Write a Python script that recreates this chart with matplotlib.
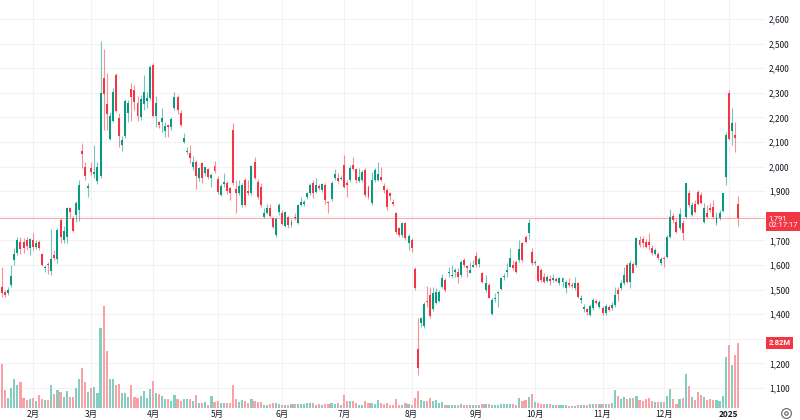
import numpy as np
import matplotlib
matplotlib.use("Agg")
import matplotlib.pyplot as plt
from matplotlib import transforms
from matplotlib.lines import Line2D

plt.rcParams['font.family'] = ['Noto Sans CJK JP', 'DejaVu Sans']

# 日足 (2024年1月中旬 ～ 2025年1月9日)
opens = [
    1512, 1492, 1485, 1519, 1620, 1647, 1695, 1692, 1700, 1668,
    1703, 1675, 1695, 1645, 1587, 1605, 1577, 1640, 1623, 1783,
    1702, 1712, 1830, 1790, 1803, 1823, 2065, 2000, 1912, 1995,
    1970, 1943, 1960, 2362, 2255, 2111, 2187, 2372, 2196, 2088,
    2124, 2217, 2314, 2311, 2257, 2200, 2255, 2265, 2277, 2413,
    2206, 2180, 2180, 2146, 2170, 2162, 2237, 2281, 2216, 2101,
    2058, 2057, 1997, 2020, 1952, 2013, 1973, 1989, 1952, 2004,
    1950, 1885, 1930, 1932, 1912, 2149, 1908, 1891, 1844, 1946,
    1901, 1891, 2020, 1939, 1918, 1796, 1813, 1833, 1790, 1722,
    1817, 1813, 1759, 1796, 1763, 1796, 1770, 1844, 1848, 1878,
    1891, 1935, 1898, 1922, 1905, 1925, 1858, 1867, 1952, 1955,
    1948, 2006, 1935, 1946, 2006, 1989, 1943, 1946, 1986, 1918,
    1851, 1946, 1946, 1959, 1921, 1905, 1891, 1856, 1810, 1749,
    1722, 1769, 1688, 1702, 1582, 1257, 1363, 1352, 1455, 1478,
    1420, 1444, 1455, 1509, 1539, 1566, 1555, 1573, 1573, 1559,
    1620, 1596, 1569, 1593, 1637, 1604, 1566, 1498, 1519, 1401,
    1460, 1485, 1501, 1550, 1573, 1593, 1600, 1614, 1620, 1688,
    1712, 1729, 1654, 1607, 1596, 1580, 1552, 1536, 1542, 1539,
    1542, 1525, 1532, 1505, 1525, 1520, 1505, 1525, 1458, 1420,
    1420, 1397, 1424, 1455, 1431, 1424, 1404, 1428, 1424, 1437,
    1498, 1505, 1525, 1600, 1532, 1604, 1600, 1702, 1704, 1695,
    1695, 1670, 1645, 1645, 1607, 1630, 1634, 1715, 1799, 1776,
    1749, 1772, 1796, 1891, 1803, 1848, 1898, 1885, 1776, 1810,
    1830, 1837, 1769, 1790, 1821, 1959, 2298, 2146, 2128, 1847,
]
highs = [
    1590, 1500, 1512, 1600, 1668, 1715, 1715, 1710, 1712, 1710,
    1731, 1700, 1700, 1650, 1600, 1612, 1745, 1660, 1750, 1790,
    1760, 1835, 1835, 1800, 1860, 1945, 2095, 2020, 1932, 2020,
    2088, 2020, 2512, 2477, 2380, 2220, 2320, 2380, 2216, 2124,
    2275, 2270, 2338, 2330, 2285, 2290, 2372, 2305, 2412, 2420,
    2285, 2185, 2237, 2182, 2175, 2200, 2305, 2290, 2230, 2135,
    2080, 2088, 2045, 2027, 2000, 2020, 2000, 1995, 1972, 2022,
    1960, 1930, 1972, 1940, 1918, 2178, 1946, 1946, 1935, 1952,
    1946, 2006, 2040, 1950, 1932, 1830, 1850, 1848, 1795, 1797,
    1851, 1825, 1820, 1800, 1786, 1810, 1850, 1878, 1864, 1898,
    1932, 1946, 1952, 1930, 1935, 1932, 1862, 1940, 1989, 1972,
    1966, 2047, 1946, 2006, 2040, 1993, 1993, 1985, 1993, 1925,
    1979, 1993, 2020, 1997, 1932, 1915, 1898, 1870, 1817, 1755,
    1776, 1776, 1728, 1708, 1590, 1383, 1390, 1450, 1515, 1512,
    1512, 1505, 1499, 1563, 1546, 1593, 1600, 1586, 1586, 1620,
    1627, 1600, 1614, 1620, 1654, 1634, 1573, 1559, 1525, 1464,
    1485, 1495, 1553, 1569, 1607, 1668, 1620, 1620, 1702, 1695,
    1722, 1786, 1668, 1620, 1600, 1586, 1566, 1559, 1559, 1563,
    1552, 1552, 1553, 1539, 1546, 1532, 1553, 1532, 1478, 1441,
    1424, 1441, 1464, 1460, 1458, 1433, 1441, 1437, 1451, 1512,
    1512, 1539, 1593, 1607, 1620, 1614, 1715, 1718, 1718, 1704,
    1729, 1680, 1670, 1654, 1634, 1637, 1722, 1826, 1810, 1786,
    1830, 1783, 1935, 1905, 1857, 1864, 1905, 1898, 1851, 1844,
    1851, 1864, 1817, 1823, 1894, 2142, 2311, 2237, 2183, 1880,
]
lows = [
    1472, 1470, 1478, 1512, 1600, 1640, 1645, 1650, 1660, 1640,
    1660, 1665, 1660, 1595, 1572, 1562, 1560, 1620, 1610, 1688,
    1690, 1690, 1790, 1735, 1775, 1778, 1993, 1945, 1878, 1965,
    1955, 1930, 1952, 2150, 2150, 2108, 2180, 2220, 2080, 2065,
    2115, 2183, 2186, 2230, 2186, 2190, 2230, 2238, 2270, 2200,
    2160, 2155, 2142, 2122, 2120, 2150, 2230, 2215, 2165, 2095,
    2050, 2013, 1985, 1908, 1940, 1932, 1960, 1950, 1918, 1973,
    1890, 1880, 1918, 1890, 1864, 1925, 1813, 1885, 1835, 1840,
    1885, 1885, 1948, 1870, 1837, 1793, 1808, 1796, 1750, 1715,
    1803, 1762, 1755, 1750, 1756, 1783, 1765, 1840, 1840, 1870,
    1885, 1871, 1891, 1905, 1898, 1850, 1810, 1860, 1945, 1932,
    1945, 1915, 1878, 1939, 1986, 1932, 1939, 1939, 1878, 1870,
    1844, 1939, 1940, 1940, 1891, 1823, 1864, 1840, 1728, 1715,
    1715, 1700, 1660, 1654, 1500, 1153, 1350, 1345, 1430, 1383,
    1414, 1440, 1451, 1505, 1492, 1553, 1546, 1553, 1525, 1553,
    1593, 1553, 1566, 1590, 1593, 1593, 1525, 1491, 1464, 1397,
    1451, 1430, 1498, 1539, 1553, 1590, 1580, 1566, 1614, 1614,
    1688, 1704, 1600, 1600, 1532, 1532, 1525, 1532, 1519, 1532,
    1532, 1519, 1512, 1485, 1512, 1505, 1498, 1465, 1444, 1410,
    1397, 1393, 1417, 1441, 1424, 1397, 1397, 1413, 1417, 1431,
    1455, 1498, 1519, 1525, 1505, 1566, 1593, 1674, 1674, 1668,
    1661, 1640, 1640, 1620, 1600, 1590, 1627, 1708, 1769, 1729,
    1742, 1702, 1790, 1837, 1799, 1813, 1844, 1850, 1772, 1790,
    1817, 1790, 1763, 1783, 1817, 1925, 2108, 2088, 2061, 1760,
]
closes = [
    1487, 1480, 1500, 1555, 1645, 1700, 1665, 1668, 1678, 1704,
    1675, 1688, 1668, 1600, 1593, 1600, 1623, 1630, 1742, 1712,
    1740, 1830, 1815, 1740, 1853, 1925, 2050, 1963, 1921, 1978,
    1980, 2000, 2300, 2295, 2215, 2206, 2305, 2226, 2124, 2108,
    2268, 2260, 2284, 2262, 2207, 2273, 2305, 2278, 2406, 2206,
    2260, 2170, 2196, 2165, 2160, 2192, 2281, 2230, 2170, 2115,
    2065, 2034, 2020, 1960, 1993, 1952, 1997, 1959, 1966, 1983,
    1898, 1921, 1939, 1902, 1892, 1935, 1892, 1921, 1925, 1844,
    1892, 2002, 1952, 1878, 1844, 1813, 1830, 1800, 1756, 1786,
    1844, 1767, 1817, 1763, 1776, 1790, 1844, 1857, 1857, 1891,
    1925, 1894, 1925, 1912, 1929, 1864, 1853, 1935, 1970, 1943,
    1952, 1918, 1925, 1993, 1989, 1946, 1959, 1979, 1885, 1878,
    1946, 1986, 1970, 1946, 1903, 1835, 1880, 1850, 1735, 1722,
    1769, 1708, 1718, 1668, 1505, 1180, 1383, 1441, 1450, 1393,
    1485, 1492, 1492, 1546, 1498, 1571, 1559, 1580, 1553, 1614,
    1600, 1587, 1580, 1600, 1600, 1623, 1532, 1525, 1468, 1458,
    1464, 1492, 1546, 1555, 1580, 1627, 1587, 1573, 1664, 1620,
    1695, 1769, 1607, 1614, 1536, 1539, 1532, 1552, 1536, 1546,
    1536, 1546, 1546, 1532, 1519, 1515, 1525, 1471, 1464, 1428,
    1410, 1433, 1458, 1447, 1451, 1404, 1433, 1417, 1436, 1478,
    1482, 1525, 1559, 1532, 1609, 1569, 1708, 1681, 1688, 1674,
    1681, 1647, 1661, 1627, 1623, 1623, 1712, 1796, 1783, 1735,
    1807, 1729, 1932, 1844, 1844, 1817, 1848, 1853, 1830, 1796,
    1823, 1796, 1796, 1813, 1891, 2128, 2111, 2179, 2115, 1791,
]
# 出来高 (百万株)
volumes_m = [
    1.90, 0.80, 0.43, 0.87, 1.26, 1.01, 1.12, 0.43, 0.36, 0.40,
    0.43, 0.32, 0.58, 0.40, 0.36, 0.36, 1.01, 0.62, 0.80, 0.68,
    0.48, 0.72, 0.46, 0.46, 0.87, 1.26, 1.74, 1.13, 0.68, 0.87,
    0.91, 0.65, 3.45, 4.42, 2.49, 1.26, 1.26, 1.01, 1.04, 0.65,
    0.65, 0.48, 1.01, 0.46, 0.43, 0.51, 0.75, 0.43, 0.83, 1.19,
    0.65, 0.62, 0.51, 0.40, 0.39, 0.29, 0.55, 0.39, 0.32, 0.39,
    0.39, 0.39, 0.32, 0.55, 0.22, 0.22, 0.26, 0.14, 0.54, 0.26,
    0.32, 0.22, 0.22, 0.22, 0.22, 0.99, 0.39, 0.25, 0.33, 0.30,
    0.22, 0.40, 0.29, 0.26, 0.26, 0.14, 0.14, 0.19, 0.22, 0.22,
    0.17, 0.14, 0.14, 0.14, 0.17, 0.17, 0.17, 0.17, 0.17, 0.22,
    0.22, 0.22, 0.14, 0.17, 0.14, 0.19, 0.19, 0.22, 0.19, 0.22,
    0.14, 0.58, 0.32, 0.32, 0.32, 0.22, 0.14, 0.14, 0.29, 0.22,
    0.22, 0.17, 0.36, 0.22, 0.19, 0.22, 0.14, 0.14, 0.39, 0.14,
    0.14, 0.22, 0.19, 0.14, 0.43, 0.72, 0.36, 0.29, 0.29, 0.43,
    0.29, 0.33, 0.22, 0.25, 0.14, 0.12, 0.14, 0.12, 0.14, 0.17,
    0.14, 0.14, 0.14, 0.14, 0.12, 0.14, 0.17, 0.17, 0.17, 0.14,
    0.14, 0.14, 0.17, 0.17, 0.17, 0.17, 0.17, 0.14, 0.43, 0.29,
    0.36, 0.48, 0.62, 0.25, 0.22, 0.17, 0.17, 0.17, 0.17, 0.12,
    0.12, 0.14, 0.14, 0.12, 0.10, 0.10, 0.10, 0.12, 0.14, 0.14,
    0.14, 0.19, 0.19, 0.19, 0.19, 0.17, 0.17, 0.17, 0.22, 0.80,
    0.54, 0.40, 0.46, 0.40, 0.43, 0.43, 0.54, 0.36, 0.32, 0.40,
    0.43, 0.32, 0.26, 0.25, 0.25, 0.25, 0.51, 0.83, 0.39, 0.17,
    0.40, 0.43, 1.48, 0.97, 0.48, 0.36, 0.68, 0.58, 0.48, 0.36,
    0.39, 0.33, 0.33, 0.32, 0.51, 2.20, 2.75, 1.88, 2.28, 2.82,
]

# 月ごとの営業日数 (1月は表示分のみ)
month_days = [10, 19, 20, 21, 21, 20, 22, 21, 19, 22, 20, 21, 4]
month_labels = ['2月', '3月', '4月', '5月', '6月', '7月', '8月', '9月',
                '10月', '11月', '12月', '2025']
price_ticks = list(range(1100, 2700, 100))
hidden_ticks = [1300, 1800]  # 価格ラベルの下に隠れる目盛
last_price = 1791
countdown = '02:17:17'

UP = '#089981'
DOWN = '#F23645'
UP_VOL = '#84cdc1'
DOWN_VOL = '#f8a2a8'
TXT = '#131722'

o, h, l, c = (np.array(a, dtype=float) for a in (opens, highs, lows, closes))
vol = np.array(volumes_m) * 1e6
x = np.arange(len(c))
up = c >= o
col = np.where(up, UP, DOWN)
vcol = np.where(up, UP_VOL, DOWN_VOL)
tick_pos = np.cumsum(month_days)[:-1]

fig = plt.figure(figsize=(8, 4.2), dpi=100)
rect = [0, 12 / 420, 765 / 800, 408 / 420]
ax = fig.add_axes(rect)
axv = fig.add_axes(rect, sharex=ax)
axv.patch.set_alpha(0)
axv.set_zorder(ax.get_zorder() + 1)

# ローソク足
ax.vlines(x, l, h, colors=col, lw=0.8, alpha=0.55)
ax.bar(x, np.maximum(np.abs(c - o), 3), bottom=np.minimum(o, c),
       width=0.64, color=col, lw=0)

# 出来高
axv.bar(x, vol, width=0.7, color=vcol, lw=0)
axv.set_ylim(0, 17.7e6)
axv.axis('off')

ax.set_xlim(-0.65, 247.75)
ax.set_ylim(1019, 2677)
ax.set_xticks(tick_pos)
ax.set_xticklabels(month_labels)
ax.set_yticks(price_ticks)
ax.set_yticklabels(['' if v in hidden_ticks else f'{v:,}' for v in price_ticks])
ax.yaxis.tick_right()
ax.grid(True, color='#f2f2f5', lw=0.8)
ax.set_axisbelow(True)
ax.tick_params(axis='y', length=0, pad=3, labelsize=6, labelcolor=TXT)
ax.tick_params(axis='x', length=0, pad=1.5, labelsize=6, labelcolor=TXT)
ax.get_xticklabels()[-1].set_fontweight('bold')
for s in ax.spines.values():
    s.set_visible(False)

# 現在値ライン
ax.axhline(last_price, color=DOWN, lw=0.7, alpha=0.45)
tr = transforms.blended_transform_factory(ax.transAxes, ax.transData)
ax.annotate(f'{last_price:,}\n{countdown}', xy=(1.0, last_price), xycoords=tr,
            xytext=(2.5, -2.5), textcoords='offset points', ha='left', va='center',
            fontsize=5.5, family=['Roboto', 'DejaVu Sans'], color='white',
            linespacing=1.2, zorder=10, annotation_clip=False,
            bbox=dict(boxstyle='square,pad=0.35', fc=DOWN, ec='none'))

trv = transforms.blended_transform_factory(axv.transAxes, axv.transData)
axv.annotate(f'{vol[-1] / 1e6:.2f}M', xy=(1.0, vol[-1]), xycoords=trv,
             xytext=(2.5, 0), textcoords='offset points', ha='left', va='center',
             fontsize=5.5, family=['Roboto', 'DejaVu Sans'], color='white',
             fontweight='bold', zorder=10, annotation_clip=False,
             bbox=dict(boxstyle='square,pad=0.35', fc=DOWN, ec='none'))

# 右下の設定アイコン
fig.add_artist(Line2D([786 / 800], [1 - 413 / 420], marker='o', markersize=7,
                      mfc='none', mec='#5d606b', mew=0.8, transform=fig.transFigure))
fig.add_artist(Line2D([786 / 800], [1 - 413 / 420], marker='o', markersize=2.5,
                      mfc='none', mec='#5d606b', mew=0.8, transform=fig.transFigure))

fig.savefig('out.png', dpi=100)
